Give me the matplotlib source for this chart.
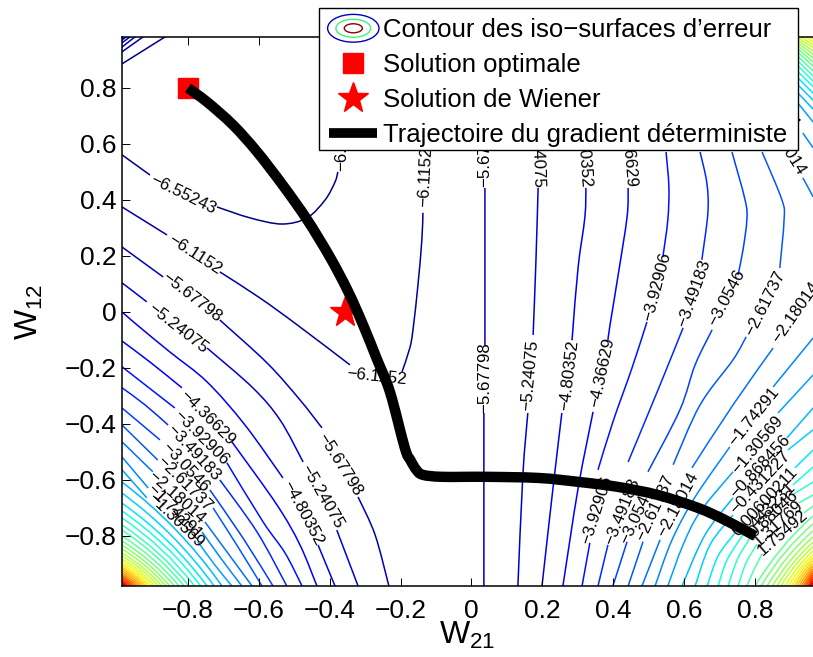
import matplotlib
matplotlib.use('Agg')
import matplotlib.pyplot as plt
from matplotlib.colors import Normalize
from matplotlib.legend_handler import HandlerBase
from matplotlib.lines import Line2D
from matplotlib.patches import Ellipse, PathPatch, Rectangle
from matplotlib.path import Path

plt.rcParams['font.family'] = ['Liberation Sans', 'DejaVu Sans']
plt.rcParams['mathtext.fontset'] = 'custom'
plt.rcParams['mathtext.rm'] = 'Liberation Sans'

nan = float('nan')

# contour levels, lowest first
levels = [-6.55243, -6.1152, -5.67798, -5.24075, -4.80352, -4.36629, -3.92906,
          -3.49183, -3.0546, -2.61737, -2.18014, -1.74291, -1.30569, -0.868456,
          -0.431227, 0.00600211, 0.443231, 0.88046, 1.31769, 1.75492, 2.19215,
          2.62938, 3.06661, 3.50384, 3.94107, 4.3783, 4.81553, 5.25276, 5.68999,
          6.12722, 6.56445, 7.00168, 7.43891, 7.87614, 8.31337, 8.7506, 9.18783,
          9.62506, 10.06229, 10.49952, 10.93675]

# labelled contours, nan = gap where a label sits
c00_x = [-.986, -.907, nan, -.718, -.625, -.535, -.464, -.413, -.385, -.377]
c00_y = [.561, .489, nan, .375, .336, .314, .336, .400, .464, .500]
c01_x = [-.986, -.859, nan, -.710, -.597, -.492, -.343, nan, -.196, -.174, -.165, -.151, -.140, -.137]
c01_y = [.375, .275, nan, .143, .050, -.046, -.189, nan, -.214, -.129, -.064, .096, .257, .354]
c02_x = [-.986, -.870, nan, -.710, -.577, -.484, -.422, nan, -.320, -.272, -.233, nan, .038, .038, nan, .035, .035]
c02_y = [.232, .125, nan, -.029, -.182, -.314, -.414, nan, -.661, -.796, -.979, nan, .443, -.118, nan, -.361, -.979]
c03_x = [-.986, -.916, nan, -.746, -.617, -.540, -.475, nan, -.380, -.320, nan, .188, .182, .174, nan, .159, .145, .131]
c03_y = [.104, .036, nan, -.129, -.271, -.386, -.536, nan, -.779, -.979, nan, .443, .186, -.082, nan, -.361, -.582, -.979]
c04_x = [-.986, -.944, -.851, -.746, -.639, -.532, nan, -.433, -.385, nan, .323, .320, .301, .286, .284, nan, .255, .230, .199]
c04_y = [0, -.046, -.143, -.25, -.404, -.593, nan, -.832, -.979, nan, .443, .339, .161, -.064, -.1, nan, -.361, -.629, -.979]
c05_x = [-.986, -.907, -.817, nan, -.676, -.549, -.484, -.436, nan, .442, .439, .413, .391, .385, nan, .343, .301, .258]
c05_y = [-.104, -.179, -.271, nan, -.464, -.689, -.832, -.979, nan, .443, .339, .125, -.046, -.1, nan, -.357, -.629, -.979]
c06_x = [-.986, -.913, -.837, nan, -.690, -.588, -.526, -.478, nan, .549, .557, .554, .540, nan, .495, .453, .399, .357, nan, .334, .312]
c06_y = [-.196, -.268, -.343, nan, -.539, -.75, -.861, -.979, nan, .571, .446, .329, .196, nan, -.036, -.2, -.393, -.564, nan, -.825, -.979]
c07_x = [-.986, -.921, -.856, nan, -.710, -.605, -.521, nan, .645, .664, .667, .650, nan, .597, .532, .442, nan, .385, .357]
c07_y = [-.271, -.332, -.404, nan, -.6, -.786, -.979, nan, .571, .461, .354, .186, nan, -.057, -.261, -.536, nan, -.832, -.979]
c08_x = [-.986, -.879, nan, -.738, -.645, -.560, nan, .735, .772, .777, .766, .752, nan, .679, .631, .588, .498, nan, .439, .399]
c08_y = [-.343, -.457, nan, -.636, -.807, -.979, nan, .571, .4, .329, .221, .132, nan, -.064, -.189, -.35, -.571, nan, -.821, -.979]
c09_x = [-.986, -.885, nan, -.729, -.659, -.591, nan, .820, .876, .882, .870, nan, .775, .738, .645, .569, nan, .484, .442]
c09_y = [-.404, -.529, nan, -.7, -.839, -.979, nan, .571, .4, .329, .157, nan, -.089, -.171, -.332, -.546, nan, -.821, -.979]
c10_x = [-.986, -.899, nan, -.752, -.690, -.619, nan, .935, .964, nan, .851, .738, .622, nan, .532, .481]
c10_y = [-.464, -.571, nan, -.75, -.857, -.979, nan, .479, .411, nan, -.129, -.332, -.557, nan, -.814, -.979]
c11_x = [-.986, -.912, nan, -.760, -.710, -.648, nan, .935, .964, nan, .964, .851, nan, .729, .631, .566, .518]
c11_y = [-.518, -.629, nan, -.786, -.875, -.979, nan, .639, .586, nan, -.093, -.268, nan, -.482, -.661, -.814, -.979]
c12_x = [-.986, -.916, nan, -.772, -.724, -.676, nan, .964, .865, nan, .738, .645, .597, .554]
c12_y = [-.564, -.664, nan, -.821, -.904, -.979, nan, -.225, -.361, nan, -.571, -.714, -.832, -.979]
c13_x = [.964, .890, nan, .738, .659, .594]
c13_y = [-.343, -.45, nan, -.664, -.796, -.979]
c14_x = [.964, .893, nan, .738, .673, .631]
c14_y = [-.421, -.493, nan, -.725, -.832, -.979]
c15_x = [.964, .913, nan, .744, .696, .665]
c15_y = [-.493, -.557, nan, -.789, -.871, -.979]
c16_x = [.964, .907, nan, .766, .721, .696]
c16_y = [-.554, -.618, nan, -.796, -.886, -.979]
c17_x = [.964, .910, nan, .792, .752, .724]
c17_y = [-.607, -.65, nan, -.796, -.879, -.979]
c18_x = [.964, .924, nan, .806, .775, .752]
c18_y = [-.654, -.682, nan, -.829, -.896, -.979]
c19_x = [.964, .938, nan, .820, .797, .777]
c19_y = [-.693, -.718, nan, -.864, -.921, -.979]

contour_x = [c00_x, c01_x, c02_x, c03_x, c04_x, c05_x, c06_x, c07_x, c08_x, c09_x,
             c10_x, c11_x, c12_x, c13_x, c14_x, c15_x, c16_x, c17_x, c18_x, c19_x]
contour_y = [c00_y, c01_y, c02_y, c03_y, c04_y, c05_y, c06_y, c07_y, c08_y, c09_y,
             c10_y, c11_y, c12_y, c13_y, c14_y, c15_y, c16_y, c17_y, c18_y, c19_y]

# dense corner families: where each line meets the two edges
bl_levels = levels[13:41]
bl_left_y = [-.608, -.647, -.683, -.711, -.736, -.761, -.779, -.800, -.818, -.833, -.847, -.861, -.872, -.883,
             -.893, -.902, -.911, -.918, -.925, -.933, -.940, -.945, -.950, -.956, -.961, -.966, -.970, -.975]
bl_bottom_x = [-.704, -.726, -.746, -.764, -.781, -.797, -.811, -.825, -.838, -.851, -.862, -.873, -.883, -.893,
               -.901, -.910, -.918, -.925, -.932, -.939, -.946, -.952, -.958, -.963, -.969, -.973, -.978, -.982]
br_levels = levels[20:41]
br_right_y = [-.729, -.757, -.782, -.804, -.823, -.839, -.854, -.868, -.879, -.889, -.9, -.909, -.918, -.925,
              -.932, -.939, -.946, -.954, -.961, -.968, -.975]
br_bottom_x = [.800, .817, .834, .849, .862, .873, .885, .894, .903, .911, .918, .925, .931, .937,
               .941, .945, .950, .952, .955, .958, .961]
tr_levels = levels[12:29]
tr_start_y = [.746, .782, .811, .836, .858, .879, .896, .913, .927, .939, .95, .961, .97, .979, .989, 1.0, 1.01]
tr_end_y = [.679, .725, .757, .782, .805, .825, .843, .861, .879, .893, .907, .920, .932, .945, .955, .966, .977]
tl_levels = levels[0:6]
tl_left_y = [.886, .929, .946, .961, .971, .977]
tl_top_x = [-.865, -.927, -.950, -.964, -.975, -.98]

# inline labels
label_text = ['−6.55243', '−6.55243', '−6.1152', '−6.1152', '−6.1152',
              '−5.67798', '−5.67798', '−5.67798', '−5.67798',
              '−5.24075', '−5.24075', '−5.24075', '−5.24075',
              '−4.80352', '−4.80352', '−4.80352',
              '−4.36629', '−4.36629', '−4.36629',
              '−3.92906', '−3.92906', '−3.92906',
              '−3.49183', '−3.49183', '−3.49183',
              '−3.0546', '−3.0546', '−3.0546',
              '−2.61737', '−2.61737', '−2.61737',
              '−2.18014', '−2.18014', '−2.18014', '−2.18014',
              '−1.74291', '−1.74291', '−1.74291',
              '−1.30569', '−1.30569',
              '−0.868456', '−0.431227', '0.00600211', '0.443231', '0.88046', '1.31769', '1.75492']
label_x = [-.814, -.365, -.780, -.267, -.131,
           -.789, -.371, .038, .038,
           -.828, -.422, .185, .165,
           -.475, .315, .275,
           -.746, .442, .368,
           -.763, .523, .354,
           -.783, .628, .425,
           -.808, .721, .467,
           -.811, .828, .518,
           -.831, .877, .916, .583,
           -.837, .856, .797,
           -.834, .806,
           .814, .814, .828, .837, .851, .865, .879]
label_y = [.418, .632, .204, -.232, .482,
           .054, -.546, .571, -.236,
           -.057, -.661, .571, -.225,
           -.718, .571, -.225,
           -.379, .571, -.218,
           -.45, .089, -.707,
           -.504, .068, -.714,
           -.557, .05, -.725,
           -.614, .032, -.7,
           -.664, .6, 0, -.689,
           -.714, .757, -.375,
           -.746, -.475,
           -.554, -.611, -.679, -.707, -.721, -.754, -.789]
label_angle = [-26, 90, -33, -6, 87,
               -38, -58, 90, 90,
               -38, -60, -88, 85,
               -62, -86, 83,
               -45, -85, 78,
               -45, 75, 72,
               -47, 70, 68,
               -47, 62, 65,
               -45, 63, 65,
               -42, -58, 55, 62,
               -45, -52, 51,
               -44, 50,
               47, 47, 47, 45, 43, 42, 41]

# gradient path
traj_x = [-.8, -.746, -.673, -.605, -.532, -.464, -.399, -.348, -.306, -.268, -.23, -.188, -.172, -.155, -.137, -.083,
          .038, .188, .301, .413, .526, .639, .715, .8]
traj_y = [.8, .75, .668, .572, .452, .33, .195, .073, -.046, -.165, -.286, -.486, -.53, -.565, -.582, -.589,
          -.589, -.593, -.607, -.625, -.654, -.7, -.743, -.8]
optimal_x, optimal_y = -.8, .8
wiener_x, wiener_y = -.357, 0

ticks = [-.8, -.6, -.4, -.2, 0, .2, .4, .6, .8]
tick_labels = ['−0.8', '−0.6', '−0.4', '−0.2', '0', '0.2', '0.4', '0.6', '0.8']
legend_labels = ['Contour des iso−surfaces d’erreur', 'Solution optimale',
                 'Solution de Wiener', 'Trajectoire du gradient déterministe']

xmin, xmax, ymin, ymax = -.986, .9636, -.979, .982
norm = Normalize(-6.55243, 12.0)
lw = 1.1


def colour(level):
    return plt.cm.jet(norm(level))


def smooth_path(xs, ys):
    # bezier path through the read points, nan starts a new piece
    verts, codes = [], []
    piece = []
    for x, y in list(zip(xs, ys)) + [(nan, nan)]:
        if x == x:
            piece.append((x, y))
            continue
        n = len(piece)
        for j in range(n):
            if j == 0:
                verts.append(piece[0])
                codes.append(Path.MOVETO)
                continue
            p0 = piece[max(j - 2, 0)]
            p1 = piece[j - 1]
            p2 = piece[j]
            p3 = piece[min(j + 1, n - 1)]
            verts.append((p1[0] + (p2[0] - p0[0]) / 6, p1[1] + (p2[1] - p0[1]) / 6))
            verts.append((p2[0] - (p3[0] - p1[0]) / 6, p2[1] - (p3[1] - p1[1]) / 6))
            verts.append(p2)
            codes += [Path.CURVE4] * 3
        piece = []
    return Path(verts, codes)


def corner_line(ax, x0, y0, x1, y1, cx, cy, level, bend=.58):
    # quadratic curve between two edges, pulled away from corner (cx, cy)
    mx = cx + bend * ((x0 + x1) - cx - cx)
    my = cy + bend * ((y0 + y1) - cy - cy)
    p = Path([(x0, y0), (mx, my), (x1, y1)], [Path.MOVETO, Path.CURVE3, Path.CURVE3])
    ax.add_patch(PathPatch(p, fc='none', ec=colour(level), lw=lw, zorder=1))


class ContourHandler(HandlerBase):
    def create_artists(self, legend, orig_handle, xdescent, ydescent, width, height, fontsize, trans):
        cx = width / 2 - xdescent
        cy = height / 2 - ydescent
        return [Ellipse((cx, cy), w, h, fc='none', ec=c, lw=1.0, transform=trans)
                for w, h, c in [(37, 20, '#0000c0'), (25, 13, '#40f080'), (13, 6.5, '#900000')]]


fig = plt.figure(figsize=(8.13, 6.57), dpi=100)
ax = fig.add_axes([122 / 813, 1 - 586 / 657, 691 / 813, 549 / 657])

for i in range(len(contour_x)):
    ax.add_patch(PathPatch(smooth_path(contour_x[i], contour_y[i]), fc='none',
                           ec=colour(levels[i]), lw=lw, zorder=1))
for i in range(len(bl_levels)):
    corner_line(ax, xmin, bl_left_y[i], bl_bottom_x[i], ymin, xmin, ymin, bl_levels[i])
for i in range(len(br_levels)):
    corner_line(ax, xmax, br_right_y[i], br_bottom_x[i], ymin, xmax, ymin, br_levels[i])
for i in range(len(tr_levels)):
    ax.plot([.921, xmax], [tr_start_y[i], tr_end_y[i]], color=colour(tr_levels[i]), lw=lw, zorder=1)
for i in range(len(tl_levels)):
    ax.plot([xmin, tl_top_x[i]], [tl_left_y[i], ymax], color=colour(tl_levels[i]), lw=lw, zorder=1)

for i in range(len(label_text)):
    ax.text(label_x[i], label_y[i], label_text[i], rotation=label_angle[i], rotation_mode='anchor',
            ha='center', va='center', fontsize=12.2, color='black', zorder=1.5)

ax.plot(optimal_x, optimal_y, 's', color='red', ms=14, mec='red', zorder=2)
ax.plot(wiener_x, wiener_y, '*', color='red', ms=23, mec='red', zorder=2)
ax.add_patch(PathPatch(smooth_path(traj_x, traj_y), fc='none', ec='black', lw=7.5,
                       capstyle='butt', joinstyle='round', zorder=3))

ax.set_xlim(xmin, xmax)
ax.set_ylim(ymin, ymax)
ax.set_xticks(ticks)
ax.set_xticklabels(tick_labels)
ax.set_yticks(ticks)
ax.set_yticklabels(tick_labels)
ax.tick_params(direction='in', length=6, width=.7, top=True, labelsize=19)
ax.tick_params(axis='x', pad=9)
ax.tick_params(axis='y', pad=4)
ax.spines['right'].set_visible(False)
for s in ['left', 'top', 'bottom']:
    ax.spines[s].set_linewidth(1.1)
ax.set_xlabel(r'$\mathrm{W_{21}}$', fontsize=23, labelpad=-2)
ax.set_ylabel(r'$\mathrm{W_{12}}$', fontsize=23, labelpad=14)

handles = [Ellipse((0, 0), 1, 1),
           Line2D([], [], ls='none', marker='s', color='red', ms=14),
           Line2D([], [], ls='none', marker='*', color='red', ms=23),
           Line2D([], [], color='black', lw=7, solid_capstyle='butt')]
frame = Rectangle((319 / 813, 1 - 150 / 657), 479 / 813, 142 / 657, transform=fig.transFigure,
                  fc='white', ec='black', lw=1.0, clip_on=False, zorder=4.9)
ax.add_patch(frame)
leg = ax.legend(handles, legend_labels, handler_map={Ellipse: ContourHandler()},
                loc='upper left', bbox_to_anchor=(319 / 813, 1 - 8 / 657), bbox_transform=fig.transFigure,
                borderaxespad=0, fontsize=18.5, frameon=False,
                labelspacing=.42, handlelength=1.87, handletextpad=.23, borderpad=.4)
leg.set_zorder(5)

fig.savefig('out.png', dpi=100)
